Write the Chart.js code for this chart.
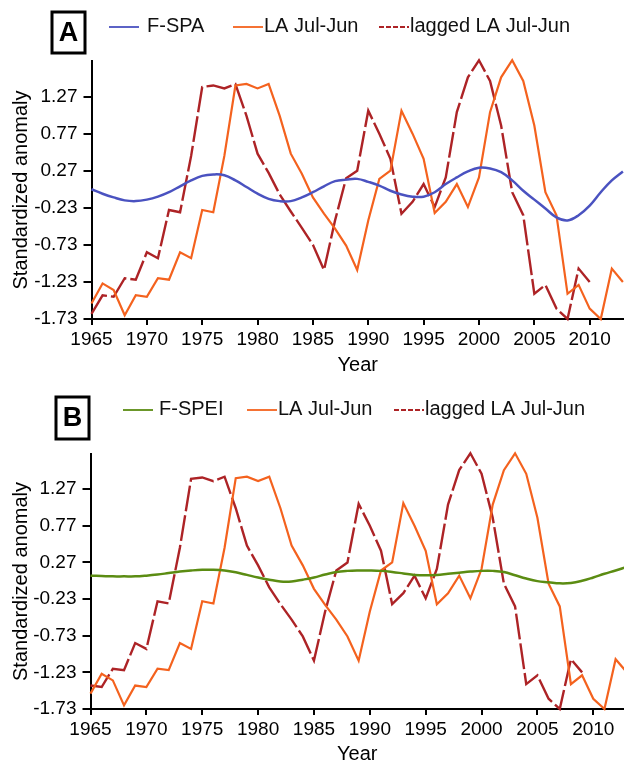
<!DOCTYPE html>
<html>
<head>
<meta charset="utf-8">
<script src="https://cdn.jsdelivr.net/npm/chart.js@4.4.1/dist/chart.umd.min.js"></script>
<style>
  html, body { margin: 0; padding: 0; background: #fff; }
  canvas { display: block; }
</style>
</head>
<body>
<canvas id="chartA" width="624" height="385"></canvas>
<canvas id="chartB" width="624" height="386"></canvas>
<script>
const years = [1965, 1966, 1967, 1968, 1969, 1970, 1971, 1972, 1973, 1974,
  1975, 1976, 1977, 1978, 1979, 1980, 1981, 1982, 1983, 1984,
  1985, 1986, 1987, 1988, 1989, 1990, 1991, 1992, 1993, 1994,
  1995, 1996, 1997, 1998, 1999, 2000, 2001, 2002, 2003, 2004,
  2005, 2006, 2007, 2008, 2009, 2010, 2011, 2012, 2013];

// LA Jul-Jun
const laJulJun = [-1.52, -1.25, -1.34, -1.68, -1.41, -1.43, -1.18, -1.20, -0.83, -0.91,
  -0.26, -0.29, 0.47, 1.42, 1.44, 1.38, 1.44, 1.01, 0.50, 0.23,
  -0.09, -0.31, -0.51, -0.74, -1.07, -0.40, 0.16, 0.27, 1.08, 0.77,
  0.43, -0.30, -0.15, 0.09, -0.22, 0.18, 1.06, 1.53, 1.76, 1.48,
  0.88, -0.02, -0.33, -1.39, -1.27, -1.59, -1.73, -1.05, -1.23];

// lagged LA Jul-Jun, panel A (3 yr)
const laggedA = [-1.66, -1.41, -1.43, -1.18, -1.20, -0.83, -0.91, -0.26, -0.29, 0.47,
  1.40, 1.42, 1.38, 1.44, 1.01, 0.50, 0.24, -0.05, -0.28, -0.50,
  -0.73, -1.07, -0.40, 0.17, 0.27, 1.08, 0.77, 0.43, -0.31, -0.15,
  0.09, -0.22, 0.18, 1.06, 1.53, 1.76, 1.48, 0.88, -0.02, -0.33,
  -1.39, -1.27, -1.59, -1.73, -1.05, -1.23, null, null, null];

// lagged LA Jul-Jun, panel B (4 yr)
const laggedB = [-1.41, -1.43, -1.18, -1.20, -0.83, -0.91, -0.26, -0.29, 0.47, 1.41,
  1.43, 1.38, 1.44, 1.01, 0.50, 0.23, -0.07, -0.30, -0.51, -0.74,
  -1.07, -0.40, 0.16, 0.27, 1.07, 0.77, 0.43, -0.30, -0.15, 0.09,
  -0.22, 0.18, 1.06, 1.53, 1.76, 1.48, 0.88, -0.02, -0.33, -1.39,
  -1.27, -1.59, -1.73, -1.05, -1.23, null, null, null, null];

const fSpa = [0.02, -0.04, -0.09, -0.13, -0.14, -0.12, -0.08, -0.02, 0.06, 0.14,
  0.20, 0.22, 0.21, 0.14, 0.05, -0.04, -0.11, -0.14, -0.14, -0.09,
  -0.02, 0.06, 0.13, 0.15, 0.16, 0.12, 0.07, 0.00, -0.05, -0.08,
  -0.08, -0.02, 0.09, 0.18, 0.26, 0.31, 0.30, 0.25, 0.14, 0.00,
  -0.12, -0.24, -0.36, -0.40, -0.33, -0.20, -0.02, 0.14, 0.26];

const fSpei = [0.09, 0.085, 0.08, 0.08, 0.08, 0.09, 0.105, 0.125, 0.145, 0.16,
  0.17, 0.17, 0.16, 0.135, 0.10, 0.065, 0.035, 0.01, 0.01, 0.035,
  0.065, 0.105, 0.14, 0.155, 0.16, 0.16, 0.155, 0.14, 0.12, 0.10,
  0.095, 0.10, 0.115, 0.13, 0.145, 0.155, 0.155, 0.14, 0.095, 0.05,
  0.015, 0.00, -0.015, -0.01, 0.02, 0.065, 0.115, 0.16, 0.21];

const xTicks = [1965, 1970, 1975, 1980, 1985, 1990, 1995, 2000, 2005, 2010];
const yTicks = [-1.73, -1.23, -0.73, -0.23, 0.27, 0.77, 1.27];

const tickFont = "'Liberation Sans Narrow', 'Liberation Sans', Arial, sans-serif";
const textFont = "'Liberation Sans', Arial, sans-serif";

function pts(arr) {
  return years.map((yr, i) => ({ x: yr, y: arr[i] }));
}

// legend + lettered box, drawn on the canvas
const panelDecor = {
  id: 'panelDecor',
  afterDraw(chart, args, opts) {
    const ctx = chart.ctx;
    const b = opts.box;
    ctx.save();
    ctx.lineWidth = 3;
    ctx.strokeStyle = '#000';
    ctx.strokeRect(b[0], b[1], b[2], b[3]);
    ctx.fillStyle = '#000';
    ctx.font = 'bold 27px ' + textFont;
    ctx.textAlign = 'center';
    ctx.textBaseline = 'middle';
    ctx.fillText(opts.letter, b[0] + b[2] / 2, b[1] + b[3] / 2 + 1);

    ctx.font = '20px ' + textFont;
    ctx.textAlign = 'left';
    chart.data.datasets.forEach((ds, i) => {
      const x = opts.legendX[i];
      ctx.strokeStyle = ds.borderColor;
      ctx.lineWidth = 1.8;
      ctx.setLineDash(ds.borderDash ? [5, 2] : []);
      ctx.beginPath();
      ctx.moveTo(x, opts.legendY);
      ctx.lineTo(x + 30, opts.legendY);
      ctx.stroke();
      ctx.setLineDash([]);
      ctx.fillStyle = '#111';
      ctx.fillText(ds.label, x + 30 + opts.textGap[i], opts.legendY - 1);
    });
    ctx.restore();
  }
};

function makeChart(id, cfg) {
  const ctx = document.getElementById(id).getContext('2d');
  return new Chart(ctx, {
    type: 'line',
    data: {
      datasets: [
        {
          label: cfg.fLabel,
          data: pts(cfg.fData),
          borderColor: cfg.fColor,
          borderWidth: 2.5,
          tension: 0.4,
          pointRadius: 0,
          clip: { left: false, top: false, right: 0, bottom: false }
        },
        {
          label: 'LA Jul-Jun',
          data: pts(laJulJun),
          borderColor: '#f4621e',
          borderWidth: 2.2,
          tension: 0,
          pointRadius: 0,
          clip: { left: false, top: false, right: 0, bottom: false }
        },
        {
          label: 'lagged LA Jul-Jun',
          data: pts(cfg.lagged),
          borderColor: '#ad2326',
          borderWidth: 2.4,
          borderDash: [26, 4],
          tension: 0,
          pointRadius: 0,
          clip: { left: false, top: false, right: 0, bottom: false }
        }
      ]
    },
    options: {
      responsive: false,
      animation: false,
      events: [],
      layout: { padding: { top: cfg.top, left: 0, right: 0, bottom: 0 } },
      plugins: {
        legend: { display: false },
        tooltip: { enabled: false },
        panelDecor: {
          letter: cfg.letter,
          box: cfg.box,
          legendX: cfg.legendX,
          textGap: cfg.textGap,
          legendY: cfg.legendY
        }
      },
      scales: {
        x: {
          type: 'linear',
          min: 1965,
          max: cfg.xMax,
          afterBuildTicks: s => { s.ticks = xTicks.map(v => ({ value: v })); },
          afterFit: s => { s.height = cfg.xHeight; },
          grid: { drawOnChartArea: false, color: '#000', lineWidth: 2, tickLength: 6 },
          border: { display: true, color: '#000', width: 2 },
          ticks: {
            color: '#000',
            padding: 3,
            maxRotation: 0,
            font: { family: tickFont, size: 19 },
            callback: v => String(v)
          },
          title: {
            display: true,
            text: 'Year',
            color: '#000',
            font: { family: textFont, size: 20 },
            padding: { top: 0, bottom: cfg.yearPad }
          }
        },
        y: {
          min: -1.73,
          max: 1.75,
          afterBuildTicks: s => { s.ticks = yTicks.map(v => ({ value: v })); },
          afterFit: s => { s.width = cfg.yWidth; },
          grid: { drawOnChartArea: false, color: '#000', lineWidth: 2, tickLength: 8 },
          border: { display: true, color: '#000', width: 2 },
          ticks: {
            color: '#000',
            padding: 6,
            font: { family: tickFont, size: 19 },
            callback: v => v.toFixed(2)
          },
          title: {
            display: true,
            text: 'Standardized anomaly',
            color: '#000',
            font: { family: textFont, size: 20 },
            padding: { top: 9, bottom: 0 }
          }
        }
      }
    },
    plugins: [panelDecor]
  });
}

makeChart('chartA', {
  letter: 'A',
  fLabel: 'F-SPA',
  fData: fSpa,
  fColor: '#4a52c0',
  lagged: laggedA,
  xMax: 2013.1,
  top: 61,
  xHeight: 66,
  yWidth: 91.5,
  yearPad: 8,
  box: [52, 12, 33, 41],
  legendX: [109, 233, 379],
  textGap: [8, 1, 1],
  legendY: 27
});

makeChart('chartB', {
  letter: 'B',
  fLabel: 'F-SPEI',
  fData: fSpei,
  fColor: '#5b8c12',
  lagged: laggedB,
  xMax: 2012.75,
  top: 69,
  xHeight: 62,
  yWidth: 90.5,
  yearPad: 5,
  box: [56, 12, 33, 42],
  legendX: [123, 247, 394],
  textGap: [6, 1, 1],
  legendY: 25
});
</script>
</body>
</html>
